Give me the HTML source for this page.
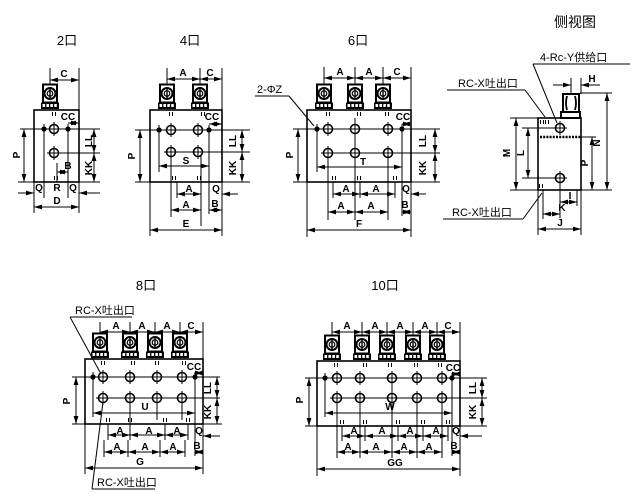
<!DOCTYPE html>
<html><head><meta charset="utf-8"><style>
body{margin:0;background:#fff}
svg{display:block}
.l{stroke:#000;stroke-width:1;fill:none}
.b{stroke:#000;stroke-width:1.6;fill:none}
.dm{stroke:#000;stroke-width:1;marker-start:url(#ar);marker-end:url(#ar)}
.de{stroke:#000;stroke-width:1;marker-end:url(#ar)}
text{font-family:"Liberation Sans",sans-serif;font-size:10px;font-weight:bold;text-anchor:middle;fill:#000}
.ttl{font-family:"Liberation Sans","Noto Sans CJK SC",sans-serif;font-size:13px;font-weight:normal}
.cj{font-family:"Liberation Sans","Noto Sans CJK SC",sans-serif;font-size:11px;font-weight:normal;text-anchor:start}
</style></head><body>
<svg width="635" height="494" viewBox="0 0 635 494" xmlns="http://www.w3.org/2000/svg">
<defs>
<marker id="ar" markerUnits="userSpaceOnUse" markerWidth="8" markerHeight="6" refX="8" refY="3" orient="auto-start-reverse" viewBox="0 0 8 6"><path d="M0,0.6 L8,3 L0,5.4z" fill="#000"/></marker>
<g id="fit">
<rect x="-7" y="-25.5" width="14" height="18" fill="#fff" stroke="#000" stroke-width="2"/>
<circle cx="0" cy="-16.5" r="5.5" fill="none" stroke="#000" stroke-width="2"/>
<circle cx="0" cy="-16.5" r="2.8" fill="none" stroke="#000" stroke-width="1.2"/>
<path d="M0,-21v9" stroke="#000" stroke-width="1.4"/>
<rect x="-9" y="-7.5" width="18" height="6.5" fill="#000"/>
<rect x="-7.5" y="-6" width="2.6" height="3" fill="#fff"/>
<rect x="-3.6" y="-6" width="2.6" height="3" fill="#fff"/>
<rect x="0.3" y="-6" width="2.6" height="3" fill="#fff"/>
<rect x="4.2" y="-6" width="2.6" height="3" fill="#fff"/>
</g>
<g id="h"><circle r="4.5" fill="#fff" stroke="#000" stroke-width="1.6"/><path d="M-7,0H7M0,-7V7" stroke="#000" stroke-width="1"/></g>
<g id="p"><circle r="2.6" fill="#000"/><path d="M-5,0H5M0,-5V5" stroke="#000" stroke-width="1"/></g>
<g id="th"><path d="M-1.5,0v4M1.5,0v4" stroke="#000" stroke-width="1"/></g>
</defs>

<!-- ================= 2口 ================= -->
<text class="ttl" x="67" y="45">2口</text>
<line class="l" x1="50" y1="68" x2="50" y2="86"/>
<line class="l" x1="79" y1="68" x2="79" y2="110"/>
<line class="dm" x1="50" y1="80" x2="79" y2="80"/>
<text x="64" y="77">C</text>
<rect class="b" x="34" y="110" width="45" height="72"/>
<line class="l" x1="20" y1="129" x2="100" y2="129"/>
<line class="l" x1="54" y1="153" x2="100" y2="153"/>
<line class="l" x1="44" y1="129" x2="44" y2="198"/>
<line class="l" x1="68" y1="129" x2="68" y2="198"/>
<line class="l" x1="57" y1="163" x2="57" y2="182"/>
<use href="#fit" x="50" y="110"/>
<use href="#th" x="54" y="112"/>
<use href="#th" x="56" y="176"/>
<line class="dm" x1="68" y1="123" x2="79" y2="123"/>
<text x="68" y="120">CC</text>
<use href="#p" x="44" y="129"/>
<use href="#h" x="54" y="129"/>
<use href="#p" x="68" y="129"/>
<use href="#h" x="54" y="153"/>
<line class="dm" x1="24" y1="129" x2="24" y2="182"/>
<text transform="translate(20,155) rotate(-90)">P</text>
<line class="dm" x1="94" y1="129" x2="94" y2="153"/>
<text transform="translate(92,141) rotate(-90)">LL</text>
<line class="dm" x1="94" y1="153" x2="94" y2="182"/>
<text transform="translate(92,168) rotate(-90)">KK</text>
<line class="dm" x1="57" y1="172" x2="68" y2="172"/>
<text x="68" y="169">B</text>
<line class="l" x1="18" y1="182" x2="100" y2="182"/>
<text x="39" y="191">Q</text><text x="57" y="191">R</text><text x="73" y="191">Q</text>
<line class="de" x1="18" y1="193" x2="34" y2="193"/>
<line class="de" x1="100" y1="193" x2="79" y2="193"/>
<line class="l" x1="34" y1="182" x2="34" y2="213"/>
<line class="l" x1="79" y1="182" x2="79" y2="213"/>
<line class="dm" x1="34" y1="207" x2="79" y2="207"/>
<text x="57" y="204">D</text>

<!-- ================= 4口 ================= -->
<text class="ttl" x="190" y="45">4口</text>
<line class="l" x1="167" y1="68" x2="167" y2="86"/>
<line class="l" x1="200" y1="68" x2="200" y2="86"/>
<line class="l" x1="222" y1="68" x2="222" y2="110"/>
<line class="dm" x1="167" y1="79" x2="200" y2="79"/>
<text x="183" y="76">A</text>
<line class="dm" x1="200" y1="79" x2="222" y2="79"/>
<text x="210" y="76">C</text>
<rect class="b" x="150" y="110" width="72" height="72"/>
<line class="l" x1="135" y1="130" x2="250" y2="130"/>
<line class="l" x1="171" y1="152" x2="250" y2="152"/>
<line class="l" x1="159" y1="130" x2="159" y2="172"/>
<line class="l" x1="209" y1="130" x2="209" y2="214"/>
<line class="l" x1="171" y1="152" x2="171" y2="217"/>
<line class="l" x1="201" y1="148" x2="201" y2="226"/>
<use href="#fit" x="167" y="110"/>
<use href="#fit" x="200" y="110"/>
<use href="#th" x="171" y="112"/>
<use href="#th" x="203" y="112"/>
<use href="#th" x="174" y="176"/>
<use href="#th" x="199" y="176"/>
<line class="dm" x1="209" y1="124" x2="222" y2="124"/>
<text x="212" y="120">CC</text>
<use href="#p" x="159" y="130"/>
<use href="#h" x="171" y="130"/>
<use href="#h" x="198" y="130"/>
<use href="#p" x="209" y="130"/>
<use href="#h" x="171" y="152"/>
<use href="#h" x="198" y="152"/>
<line class="dm" x1="140" y1="130" x2="140" y2="182"/>
<text transform="translate(135,156) rotate(-90)">P</text>
<line class="dm" x1="242" y1="130" x2="242" y2="152"/>
<text transform="translate(236,141) rotate(-90)">LL</text>
<line class="dm" x1="242" y1="152" x2="242" y2="182"/>
<text transform="translate(236,168) rotate(-90)">KK</text>
<line class="dm" x1="159" y1="166" x2="209" y2="166"/>
<text x="186" y="164">S</text>
<line class="l" x1="135" y1="182" x2="250" y2="182"/>
<line class="l" x1="177" y1="182" x2="177" y2="198"/>
<line class="dm" x1="177" y1="194" x2="201" y2="194"/>
<text x="189" y="192">A</text>
<text x="216" y="192">Q</text>
<line class="de" x1="238" y1="194" x2="222" y2="194"/>
<line class="dm" x1="171" y1="210" x2="201" y2="210"/>
<text x="186" y="208">A</text>
<line class="dm" x1="209" y1="210" x2="222" y2="210"/>
<text x="215" y="207">B</text>
<line class="l" x1="150" y1="182" x2="150" y2="236"/>
<line class="l" x1="222" y1="182" x2="222" y2="236"/>
<line class="dm" x1="150" y1="230" x2="222" y2="230"/>
<text x="186" y="227">E</text>

<!-- ================= 6口 ================= -->
<text class="ttl" x="358" y="45">6口</text>
<line class="l" x1="324" y1="67" x2="324" y2="86"/>
<line class="l" x1="355" y1="67" x2="355" y2="86"/>
<line class="l" x1="383" y1="67" x2="383" y2="86"/>
<line class="l" x1="411" y1="67" x2="411" y2="110"/>
<line class="dm" x1="324" y1="78" x2="355" y2="78"/>
<text x="340" y="75">A</text>
<line class="dm" x1="355" y1="78" x2="383" y2="78"/>
<text x="369" y="75">A</text>
<line class="dm" x1="383" y1="78" x2="411" y2="78"/>
<text x="397" y="75">C</text>
<text class="cj" x="257" y="93">2-ΦZ</text>
<line class="l" x1="255" y1="96" x2="289" y2="96"/>
<line class="l" x1="289" y1="96" x2="314" y2="126"/>
<rect class="b" x="307" y="110" width="104" height="72"/>
<line class="l" x1="293" y1="129" x2="440" y2="129"/>
<line class="l" x1="328" y1="153" x2="440" y2="153"/>
<line class="l" x1="317" y1="129" x2="317" y2="172"/>
<line class="l" x1="402" y1="129" x2="402" y2="216"/>
<line class="l" x1="328" y1="153" x2="328" y2="220"/>
<line class="l" x1="355" y1="118" x2="355" y2="220"/>
<line class="l" x1="388" y1="153" x2="388" y2="220"/>
<use href="#fit" x="324" y="110"/>
<use href="#fit" x="355" y="110"/>
<use href="#fit" x="383" y="110"/>
<use href="#th" x="328" y="112"/>
<use href="#th" x="359" y="112"/>
<use href="#th" x="387" y="112"/>
<use href="#th" x="334" y="176"/>
<use href="#th" x="359" y="176"/>
<use href="#th" x="395" y="176"/>
<line class="dm" x1="402" y1="124" x2="411" y2="124"/>
<text x="403" y="120">CC</text>
<use href="#p" x="317" y="129"/>
<use href="#h" x="328" y="129"/>
<use href="#h" x="355" y="129"/>
<use href="#h" x="388" y="129"/>
<use href="#p" x="402" y="129"/>
<use href="#h" x="328" y="153"/>
<use href="#h" x="355" y="153"/>
<use href="#h" x="388" y="153"/>
<line class="dm" x1="298" y1="129" x2="298" y2="182"/>
<text transform="translate(293,155) rotate(-90)">P</text>
<line class="dm" x1="435" y1="129" x2="435" y2="153"/>
<text transform="translate(426,141) rotate(-90)">LL</text>
<line class="dm" x1="435" y1="153" x2="435" y2="182"/>
<text transform="translate(426,168) rotate(-90)">KK</text>
<line class="dm" x1="317" y1="167" x2="402" y2="167"/>
<text x="363" y="165">T</text>
<line class="l" x1="293" y1="182" x2="440" y2="182"/>
<line class="l" x1="333" y1="182" x2="333" y2="198"/>
<line class="l" x1="360" y1="182" x2="360" y2="198"/>
<line class="l" x1="395" y1="182" x2="395" y2="198"/>
<line class="dm" x1="333" y1="194" x2="360" y2="194"/>
<text x="346" y="192">A</text>
<line class="dm" x1="360" y1="194" x2="395" y2="194"/>
<text x="376" y="192">A</text>
<text x="406" y="192">Q</text>
<line class="de" x1="426" y1="194" x2="411" y2="194"/>
<line class="dm" x1="328" y1="212" x2="355" y2="212"/>
<text x="341" y="209">A</text>
<line class="dm" x1="355" y1="212" x2="388" y2="212"/>
<text x="371" y="209">A</text>
<line class="dm" x1="402" y1="212" x2="411" y2="212"/>
<text x="405" y="208">B</text>
<line class="l" x1="307" y1="182" x2="307" y2="237"/>
<line class="l" x1="411" y1="182" x2="411" y2="237"/>
<line class="dm" x1="307" y1="230" x2="411" y2="230"/>
<text x="359" y="227">F</text>

<!-- ================= 侧视图 ================= -->
<text class="ttl" x="575" y="27" style="font-size:14px">侧视图</text>
<text class="cj" x="540" y="61">4-Rc-Y供给口</text>
<line class="l" x1="533" y1="64" x2="630" y2="64"/>
<line class="l" x1="533" y1="64" x2="557" y2="123"/>
<text class="cj" x="458" y="87">RC-X吐出口</text>
<line class="l" x1="447" y1="90" x2="525" y2="90"/>
<line class="l" x1="525" y1="90" x2="545" y2="117"/>
<line class="l" x1="571" y1="78" x2="571" y2="94"/>
<line class="l" x1="581" y1="78" x2="581" y2="94"/>
<line class="de" x1="553" y1="85" x2="571" y2="85"/>
<line class="de" x1="600" y1="85" x2="581" y2="85"/>
<text x="592" y="82">H</text>
<line class="l" x1="580" y1="93" x2="612" y2="93"/>
<line class="l" x1="510" y1="118" x2="538" y2="118"/>
<line class="l" x1="510" y1="190" x2="612" y2="190"/>
<line class="l" x1="522" y1="128" x2="560" y2="128"/>
<line class="l" x1="522" y1="178" x2="560" y2="178"/>
<line class="l" x1="580" y1="137" x2="596" y2="137"/>
<rect class="b" x="538" y="118" width="43" height="72"/>
<rect x="563" y="94" width="16" height="18" fill="#fff" stroke="#000" stroke-width="2"/>
<path d="M567,96 Q565,103 567,110 M575,96 Q577,103 575,110" fill="none" stroke="#000" stroke-width="1.8"/>
<rect x="561" y="112" width="19" height="6" fill="#fff" stroke="#000" stroke-width="2"/>
<line x1="540" y1="137" x2="580" y2="137" stroke="#000" stroke-width="2.5" stroke-dasharray="2,1.2"/>
<use href="#th" x="542" y="120"/><use href="#th" x="547" y="120"/>
<use href="#th" x="541" y="184"/>
<use href="#h" x="560" y="128"/>
<use href="#h" x="560" y="178"/>
<line class="dm" x1="607" y1="93" x2="607" y2="190"/>
<text transform="translate(600,143) rotate(-90)">N</text>
<line class="dm" x1="592" y1="137" x2="592" y2="190"/>
<text transform="translate(588,163) rotate(-90)">P</text>
<line class="dm" x1="516" y1="118" x2="516" y2="190"/>
<text transform="translate(510,153) rotate(-90)">M</text>
<line class="dm" x1="528" y1="128" x2="528" y2="178"/>
<text transform="translate(524,153) rotate(-90)">L</text>
<line class="l" x1="560" y1="178" x2="560" y2="218"/>
<line class="l" x1="577" y1="190" x2="577" y2="206"/>
<line class="l" x1="543" y1="190" x2="543" y2="219"/>
<line class="l" x1="538" y1="190" x2="538" y2="235"/>
<line class="l" x1="581" y1="190" x2="581" y2="235"/>
<line class="dm" x1="560" y1="202" x2="577" y2="202"/>
<text x="570" y="199">I</text>
<line class="dm" x1="543" y1="214" x2="560" y2="214"/>
<text x="562" y="211">K</text>
<line class="dm" x1="538" y1="229" x2="581" y2="229"/>
<text x="560" y="226">J</text>
<text class="cj" x="452" y="216">RC-X吐出口</text>
<line class="l" x1="443" y1="219" x2="523" y2="219"/>
<line class="l" x1="523" y1="219" x2="542" y2="193"/>

<!-- ================= 8口 ================= -->
<text class="ttl" x="146" y="290">8口</text>
<text class="cj" x="75" y="314">RC-X吐出口</text>
<line class="l" x1="70" y1="317" x2="132" y2="317"/>
<line class="l" x1="70" y1="317" x2="101" y2="374"/>
<line class="l" x1="100" y1="322" x2="100" y2="334"/>
<line class="l" x1="130" y1="322" x2="130" y2="334"/>
<line class="l" x1="155" y1="322" x2="155" y2="334"/>
<line class="l" x1="180" y1="322" x2="180" y2="334"/>
<line class="l" x1="203" y1="322" x2="203" y2="359"/>
<line class="dm" x1="100" y1="332" x2="130" y2="332"/>
<text x="116" y="329">A</text>
<line class="dm" x1="130" y1="332" x2="155" y2="332"/>
<text x="142" y="329">A</text>
<line class="dm" x1="155" y1="332" x2="180" y2="332"/>
<text x="167" y="329">A</text>
<line class="dm" x1="180" y1="332" x2="203" y2="332"/>
<text x="191" y="329">C</text>
<rect class="b" x="85" y="359" width="118" height="65"/>
<line class="l" x1="72" y1="377" x2="220" y2="377"/>
<line class="l" x1="103" y1="398" x2="220" y2="398"/>
<line class="l" x1="93" y1="377" x2="93" y2="417"/>
<line class="l" x1="195" y1="377" x2="195" y2="456"/>
<line class="l" x1="130" y1="398" x2="130" y2="440"/>
<line class="l" x1="157" y1="398" x2="157" y2="420"/>
<line class="l" x1="182" y1="398" x2="182" y2="420"/>
<use href="#fit" x="100" y="359"/>
<use href="#fit" x="130" y="359"/>
<use href="#fit" x="155" y="359"/>
<use href="#fit" x="180" y="359"/>
<use href="#th" x="103" y="361"/>
<use href="#th" x="133" y="361"/>
<use href="#th" x="157" y="361"/>
<use href="#th" x="184" y="361"/>
<use href="#th" x="108" y="418"/>
<use href="#th" x="130" y="418"/>
<use href="#th" x="165" y="418"/>
<use href="#th" x="188" y="418"/>
<line class="dm" x1="195" y1="373" x2="203" y2="373"/>
<text x="194" y="370">CC</text>
<use href="#p" x="93" y="377"/>
<use href="#h" x="103" y="377"/>
<use href="#h" x="130" y="377"/>
<use href="#h" x="157" y="377"/>
<use href="#h" x="182" y="377"/>
<use href="#p" x="195" y="377"/>
<use href="#h" x="103" y="398"/>
<use href="#h" x="130" y="398"/>
<use href="#h" x="157" y="398"/>
<use href="#h" x="182" y="398"/>
<line class="dm" x1="76" y1="377" x2="76" y2="424"/>
<text transform="translate(70,401) rotate(-90)">P</text>
<line class="dm" x1="217" y1="377" x2="217" y2="398"/>
<text transform="translate(211,388) rotate(-90)">LL</text>
<line class="dm" x1="217" y1="398" x2="217" y2="424"/>
<text transform="translate(211,412) rotate(-90)">KK</text>
<line class="dm" x1="93" y1="413" x2="195" y2="413"/>
<text x="145" y="410">U</text>
<line class="l" x1="72" y1="424" x2="222" y2="424"/>
<line class="l" x1="108" y1="424" x2="108" y2="440"/>
<line class="l" x1="165" y1="424" x2="165" y2="440"/>
<line class="l" x1="188" y1="424" x2="188" y2="440"/>
<line class="dm" x1="108" y1="435" x2="130" y2="435"/>
<text x="120" y="434">A</text>
<line class="dm" x1="130" y1="435" x2="165" y2="435"/>
<text x="149" y="434">A</text>
<line class="dm" x1="165" y1="435" x2="188" y2="435"/>
<text x="177" y="434">A</text>
<text x="199" y="434">Q</text>
<line class="de" x1="220" y1="436" x2="203" y2="436"/>
<line class="l" x1="104" y1="440" x2="104" y2="457"/>
<line class="l" x1="128" y1="440" x2="128" y2="457"/>
<line class="l" x1="160" y1="440" x2="160" y2="457"/>
<line class="l" x1="185" y1="440" x2="185" y2="457"/>
<line class="dm" x1="104" y1="452" x2="128" y2="452"/>
<text x="117" y="450">A</text>
<line class="dm" x1="128" y1="452" x2="160" y2="452"/>
<text x="145" y="450">A</text>
<line class="dm" x1="160" y1="452" x2="185" y2="452"/>
<text x="173" y="450">A</text>
<line class="dm" x1="195" y1="452" x2="203" y2="452"/>
<text x="197" y="449">B</text>
<line class="l" x1="85" y1="424" x2="85" y2="474"/>
<line class="l" x1="203" y1="424" x2="203" y2="474"/>
<line class="dm" x1="85" y1="468" x2="203" y2="468"/>
<text x="140" y="465">G</text>
<text class="cj" x="97" y="486">RC-X吐出口</text>
<line class="l" x1="92" y1="489" x2="155" y2="489"/>
<line class="l" x1="92" y1="489" x2="103" y2="402"/>

<!-- ================= 10口 ================= -->
<text class="ttl" x="385" y="290">10口</text>
<line class="l" x1="332" y1="322" x2="332" y2="336"/>
<line class="l" x1="362" y1="322" x2="362" y2="336"/>
<line class="l" x1="387" y1="322" x2="387" y2="336"/>
<line class="l" x1="413" y1="322" x2="413" y2="336"/>
<line class="l" x1="437" y1="322" x2="437" y2="336"/>
<line class="l" x1="460" y1="322" x2="460" y2="361"/>
<line class="dm" x1="332" y1="332" x2="362" y2="332"/>
<text x="347" y="329">A</text>
<line class="dm" x1="362" y1="332" x2="387" y2="332"/>
<text x="375" y="329">A</text>
<line class="dm" x1="387" y1="332" x2="413" y2="332"/>
<text x="400" y="329">A</text>
<line class="dm" x1="413" y1="332" x2="437" y2="332"/>
<text x="425" y="329">A</text>
<line class="dm" x1="437" y1="332" x2="460" y2="332"/>
<text x="448" y="329">C</text>
<rect class="b" x="317" y="361" width="143" height="65"/>
<line class="l" x1="305" y1="378" x2="487" y2="378"/>
<line class="l" x1="337" y1="398" x2="487" y2="398"/>
<line class="l" x1="325" y1="378" x2="325" y2="417"/>
<line class="l" x1="452" y1="378" x2="452" y2="456"/>
<line class="l" x1="337" y1="398" x2="337" y2="458"/>
<line class="l" x1="360" y1="398" x2="360" y2="458"/>
<line class="l" x1="392" y1="378" x2="392" y2="458"/>
<line class="l" x1="417" y1="398" x2="417" y2="458"/>
<line class="l" x1="442" y1="398" x2="442" y2="458"/>
<use href="#fit" x="332" y="361"/>
<use href="#fit" x="362" y="361"/>
<use href="#fit" x="387" y="361"/>
<use href="#fit" x="413" y="361"/>
<use href="#fit" x="437" y="361"/>
<use href="#th" x="336" y="363"/>
<use href="#th" x="365" y="363"/>
<use href="#th" x="390" y="363"/>
<use href="#th" x="416" y="363"/>
<use href="#th" x="440" y="363"/>
<use href="#th" x="342" y="420"/>
<use href="#th" x="365" y="420"/>
<use href="#th" x="398" y="420"/>
<use href="#th" x="423" y="420"/>
<use href="#th" x="448" y="420"/>
<line class="dm" x1="452" y1="374" x2="460" y2="374"/>
<text x="453" y="371">CC</text>
<use href="#p" x="325" y="378"/>
<use href="#h" x="337" y="378"/>
<use href="#h" x="360" y="378"/>
<use href="#h" x="392" y="378"/>
<use href="#h" x="417" y="378"/>
<use href="#h" x="442" y="378"/>
<use href="#p" x="452" y="378"/>
<use href="#h" x="337" y="398"/>
<use href="#h" x="360" y="398"/>
<use href="#h" x="392" y="398"/>
<use href="#h" x="417" y="398"/>
<use href="#h" x="442" y="398"/>
<line class="dm" x1="309" y1="378" x2="309" y2="426"/>
<text transform="translate(303,400) rotate(-90)">P</text>
<line class="dm" x1="482" y1="378" x2="482" y2="398"/>
<text transform="translate(476,388) rotate(-90)">LL</text>
<line class="dm" x1="482" y1="398" x2="482" y2="426"/>
<text transform="translate(476,412) rotate(-90)">KK</text>
<line class="dm" x1="325" y1="413" x2="452" y2="413"/>
<text x="390" y="410">W</text>
<line class="l" x1="305" y1="426" x2="487" y2="426"/>
<line class="l" x1="342" y1="426" x2="342" y2="441"/>
<line class="l" x1="365" y1="426" x2="365" y2="441"/>
<line class="l" x1="398" y1="426" x2="398" y2="441"/>
<line class="l" x1="423" y1="426" x2="423" y2="441"/>
<line class="l" x1="448" y1="426" x2="448" y2="441"/>
<line class="dm" x1="342" y1="436" x2="365" y2="436"/>
<text x="354" y="434">A</text>
<line class="dm" x1="365" y1="436" x2="398" y2="436"/>
<text x="382" y="434">A</text>
<line class="dm" x1="398" y1="436" x2="423" y2="436"/>
<text x="410" y="434">A</text>
<line class="dm" x1="423" y1="436" x2="448" y2="436"/>
<text x="436" y="434">A</text>
<text x="456" y="434">Q</text>
<line class="de" x1="482" y1="436" x2="460" y2="436"/>
<line class="dm" x1="337" y1="452" x2="360" y2="452"/>
<text x="348" y="450">A</text>
<line class="dm" x1="360" y1="452" x2="392" y2="452"/>
<text x="376" y="450">A</text>
<line class="dm" x1="392" y1="452" x2="417" y2="452"/>
<text x="404" y="450">A</text>
<line class="dm" x1="417" y1="452" x2="442" y2="452"/>
<text x="429" y="450">A</text>
<line class="dm" x1="452" y1="452" x2="460" y2="452"/>
<text x="454" y="449">B</text>
<line class="l" x1="317" y1="426" x2="317" y2="476"/>
<line class="l" x1="460" y1="426" x2="460" y2="476"/>
<line class="dm" x1="317" y1="469" x2="460" y2="469"/>
<text x="395" y="466">GG</text>
</svg>
</body></html>
